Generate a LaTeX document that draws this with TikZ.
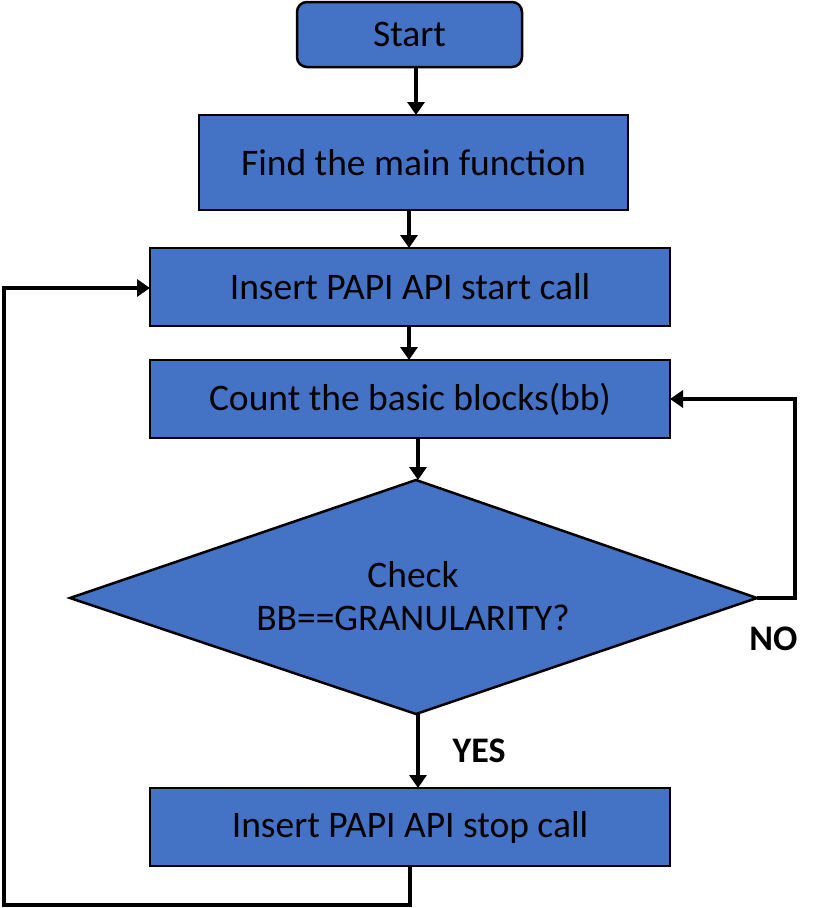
\documentclass[tikz,border=0pt]{standalone}
\usepackage{fontspec}
\setmainfont{Carlito}
\usetikzlibrary{arrows.meta}
\definecolor{boxblue}{HTML}{4472C4}
\begin{document}
\begin{tikzpicture}[x=1pt,y=-1pt,
  boxstyle/.style={draw=black,line width=2.5pt,fill=boxblue,inner sep=0pt},
  boxtext/.style={font=\fontsize{37.5}{43}\selectfont},
  conn/.style={line width=4.5pt,-{Triangle[length=13pt,width=17pt]}},
  lbl/.style={font=\bfseries\fontsize{36}{42}\selectfont,anchor=base}]
\useasboundingbox (0,0) rectangle (821,908);
% boxes
\draw[boxstyle,rounded corners=10pt] (297,2) rectangle (522,67);
\node[boxtext] (start) at (409.5,34.5) {Start};
\coordinate (startb) at (416,67);
\draw[boxstyle] (199,115) rectangle (628,210);
\node[boxtext] (find) at (413.5,162.5) {Find the main function};
\draw[boxstyle] (150,248) rectangle (670,326);
\node[boxtext] (ins) at (410,287) {Insert PAPI API start call};
\draw[boxstyle] (150,360) rectangle (670,438);
\node[boxtext] (count) at (410,399) {Count the basic blocks(bb)};
\draw[boxstyle] (70,598) -- (416,480) -- (757,598) -- (416,714) -- cycle;
\node[boxtext,align=center] (check) at (413,596) {Check\\BB==GRANULARITY?};
\draw[boxstyle] (150,788) rectangle (670,866);
\node[boxtext] (stop) at (410,827) {Insert PAPI API stop call};
% coordinates
\coordinate (findt) at (416,115);
\coordinate (findb) at (409,210);
\coordinate (inst) at (409,248);
\coordinate (insb) at (409,326);
\coordinate (countt) at (409,360);
\coordinate (countb) at (418,438);
\coordinate (diat) at (418,480);
\coordinate (diar) at (757,598);
\coordinate (countr) at (670,399);
\coordinate (diab) at (418,714);
\coordinate (stopt) at (418,788);
\coordinate (stopb) at (410,866);
\coordinate (insl) at (150,288);
% connectors
\draw[conn] (startb) -- (findt);
\draw[conn] (findb) -- (inst);
\draw[conn] (insb) -- (countt);
\draw[conn] (countb) -- (diat);
\draw[conn] (diar) -- (795,598) -- (795,399) -- (countr);
\draw[conn] (diab) -- (stopt);
\draw[conn] (stopb) -- (410,905) -- (4,905) -- (4,288) -- (insl);
% labels
\node[lbl] (no) at (773.5,650) {NO};
\node[lbl] (yes) at (479,762) {YES};
\end{tikzpicture}
\end{document}
